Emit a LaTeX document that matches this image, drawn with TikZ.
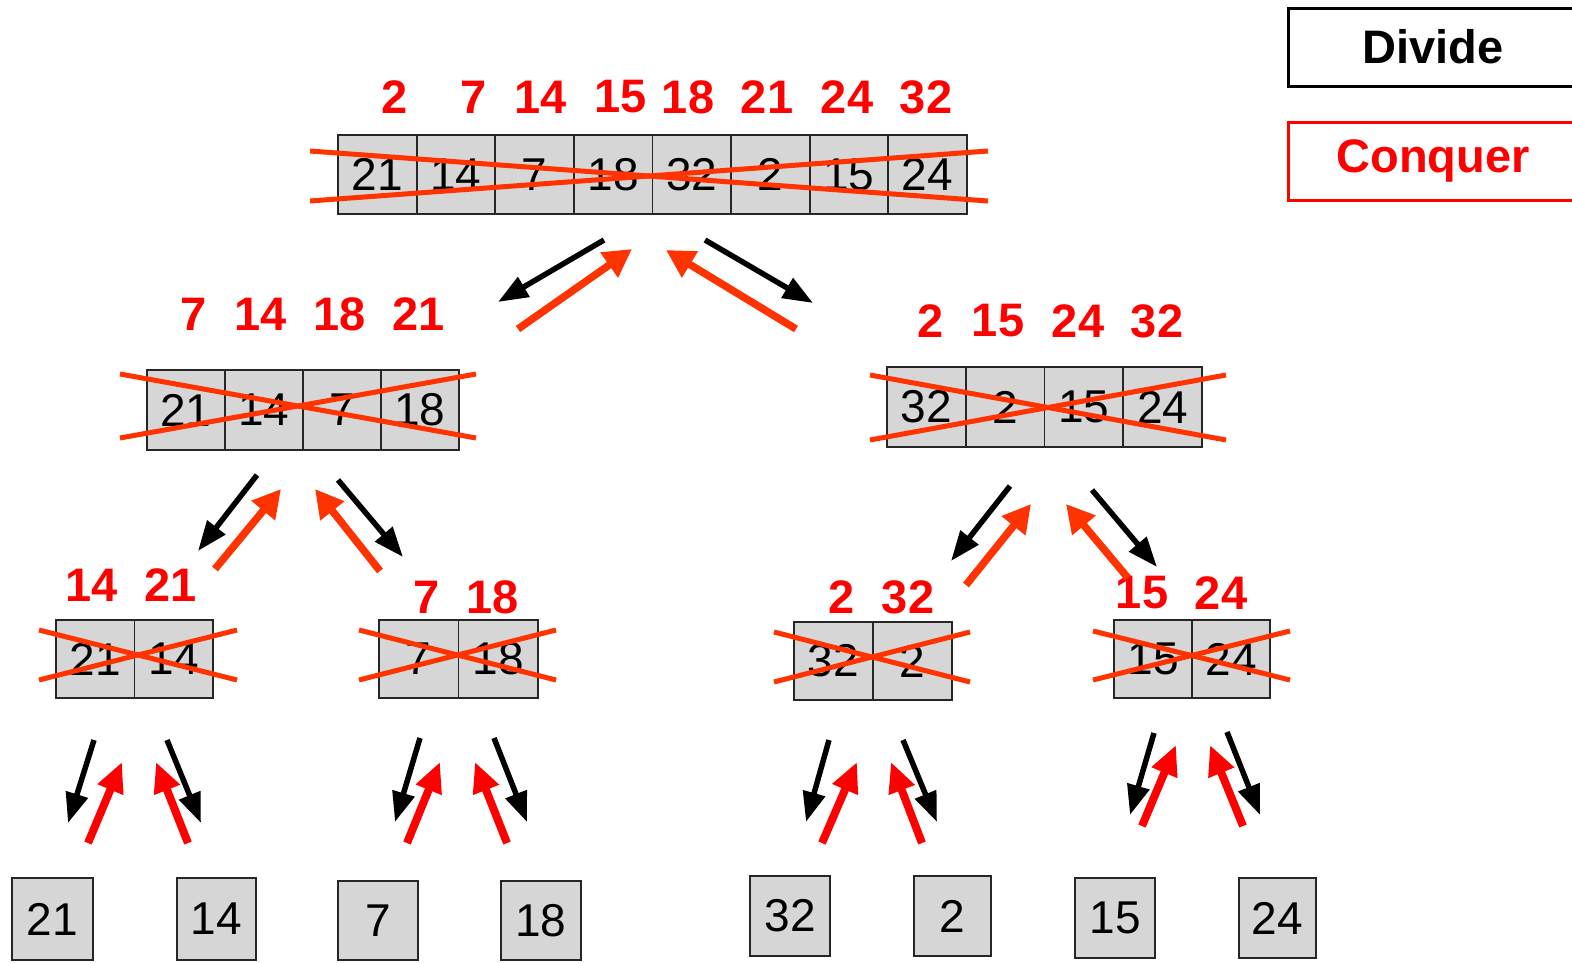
\documentclass[tikz,border=0pt]{standalone}
\usepackage{fontspec}
\setmainfont{Liberation Sans}
\usetikzlibrary{arrows.meta}
\definecolor{boxgray}{RGB}{214,214,214}
\definecolor{xred}{RGB}{255,51,0}
\definecolor{lred}{RGB}{255,0,0}
\begin{document}
\begin{tikzpicture}[x=1pt,y=-1pt,
 cell/.style={draw=black!85, fill=boxgray, line width=1.8pt, inner sep=0pt, font=\fontsize{46}{46}\selectfont},
 lab/.style={text=lred, inner sep=0pt, font=\fontsize{47}{47}\selectfont\bfseries},
 cross/.style={draw=xred, line width=5pt},
 divarrow/.style={draw=black, line width=5.5pt, -{Triangle[length=30pt,width=22pt]}},
 conqarrow/.style={draw=xred, line width=7.5pt, -{Triangle[length=28pt,width=29pt]}},
 conqarrowB/.style={draw=lred, line width=8pt, -{Triangle[length=30pt,width=26pt]}},
 legend/.style={line width=3pt, inner sep=0pt, minimum height=78pt, minimum width=290pt, font=\fontsize{47}{47}\selectfont\bfseries}
]
\useasboundingbox (0,0) rectangle (1572,962);
\clip (0,0) rectangle (1572,962);

% top array
\foreach \v [count=\i from 0] in {21,14,7,18,32,2,15,24}
  \node[cell, minimum width=78.6pt, minimum height=79pt] (top\i) at ({338+78.6*(\i+0.5)},174.5) {\v};
% level 2
\foreach \v [count=\i from 0] in {21,14,7,18}
  \node[cell, minimum width=78pt, minimum height=80pt] (ml\i) at ({147+78*(\i+0.5)},410) {\v};
\foreach \v [count=\i from 0] in {32,2,15,24}
  \node[cell, minimum width=78.75pt, minimum height=80pt] (mr\i) at ({887+78.75*(\i+0.5)},407) {\v};
% level 3
\foreach \v [count=\i from 0] in {21,14}
  \node[cell, minimum width=78.5pt, minimum height=78pt] (pa\i) at ({56+78.5*(\i+0.5)},659) {\v};
\foreach \v [count=\i from 0] in {7,18}
  \node[cell, minimum width=79.5pt, minimum height=78pt] (pb\i) at ({379+79.5*(\i+0.5)},659) {\v};
\foreach \v [count=\i from 0] in {32,2}
  \node[cell, minimum width=79pt, minimum height=78pt] (pc\i) at ({794+79*(\i+0.5)},661) {\v};
\foreach \v [count=\i from 0] in {15,24}
  \node[cell, minimum width=78pt, minimum height=78pt] (pd\i) at ({1114+78*(\i+0.5)},659) {\v};
% leaves
\foreach \n/\v/\x/\y/\w/\h in {l1/21/52.5/919/81/82, l2/14/216.5/919/79/82, l3/7/378/920.5/80/79, l4/18/541/920.5/80/79,
  l5/32/790/916/80/80, l6/2/952.5/916/77/80, l7/15/1115/918/80/80, l8/24/1277.5/918/77/80}
  \node[cell, minimum width=\w pt, minimum height=\h pt] (\n) at (\x,\y) {\v};

% crosses
\foreach \n/\xa/\ya/\xb/\yb in {t/310/151/988/201, ml/120/374/476/438, mr/870/375/1226/440,
  pa/39/630/237/680, pb/359/630/556/680, pc/774/632/970/682, pd/1093/631/1290/680}{
  \coordinate (\n x1) at (\xa,\ya); \coordinate (\n x2) at (\xb,\yb);
  \coordinate (\n x3) at (\xa,\yb); \coordinate (\n x4) at (\xb,\ya);
  \draw[cross] (\n x1) -- (\n x2);
  \draw[cross] (\n x3) -- (\n x4);
}

% sorted labels
\foreach \n/\v/\x/\y in {a1/2/395/97, a2/7/474/97, a3/14/541/97, a4/15/621/97, a5/18/688/97, a6/21/767/97, a7/24/847/97, a8/32/926/97,
  b1/7/194/314, b2/14/261/314, b3/18/340/314, b4/21/419/314,
  c1/2/931/321, c2/15/998/321, c3/24/1078/321, c4/32/1157/321,
  d1/14/92/585, d2/21/171/585, e1/7/427/597, e2/18/493/597,
  f1/2/842/597, f2/32/908/597, g1/15/1142/593, g2/24/1221/593}
  \node[lab] (\n) at (\x,\y) {\v};

% divide arrows
\foreach \n/\xa/\ya/\xb/\yb in {1/604/240/498/302, 2/705/240/813/303,
  3/257/475/198/551, 4/338/480/403/557, 5/1010/486/951/561, 6/1092/490/1157/567,
  7/94/740/68/823, 8/167/740/201/823, 9/420/738/395/822, 10/494/738/527/822,
  11/829/740/806/822, 12/903/740/937/822, 13/1154/733/1130/815, 14/1227/732/1260/815}{
  \coordinate (ds\n) at (\xa,\ya); \coordinate (de\n) at (\xb,\yb);
  \draw[divarrow] (ds\n) -- (de\n);
}
% conquer arrows (upper)
\foreach \n/\xa/\ya/\xb/\yb in {1/518/329/632/249, 2/796/329/666/250,
  3/215/569/281/489, 4/380/571/315/489, 5/966/585/1031/504, 6/1128/578/1066/504}{
  \coordinate (cs\n) at (\xa,\ya); \coordinate (ce\n) at (\xb,\yb);
  \draw[conqarrow] (cs\n) -- (ce\n);
}
% conquer arrows (lower)
\foreach \n/\xa/\ya/\xb/\yb in {7/88/843/122/762, 8/188/843/156/762, 9/407/843/440/762, 10/507/843/475/762,
  11/822/843/857/762, 12/922/843/891/762, 13/1142/826/1176/745, 14/1243/826/1210/745}{
  \coordinate (cs\n) at (\xa,\ya); \coordinate (ce\n) at (\xb,\yb);
  \draw[conqarrowB] (cs\n) -- (ce\n);
}

% legend
\node[legend, draw=black, text=black] (divide) at (1433,47) {Divide};
\node[legend, draw=lred, text=lred] (conquer) at (1433,161) {Conquer};
\end{tikzpicture}
\end{document}
